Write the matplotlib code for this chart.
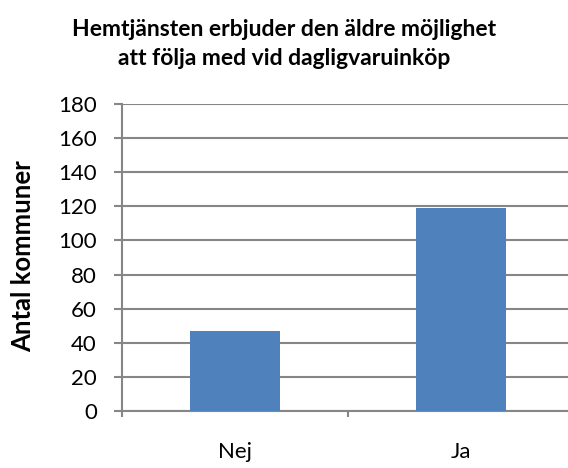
import matplotlib
matplotlib.use("Agg")
import matplotlib.pyplot as plt

categories = ["Nej", "Ja"]
values = [47, 119]
y_ticks = [0, 20, 40, 60, 80, 100, 120, 140, 160, 180]

TITLE = "Hemtjänsten erbjuder den äldre möjlighet\natt följa med vid dagligvaruinköp"
Y_LABEL = "Antal kommuner"

BAR_COLOR = "#4F81BD"
GRID_COLOR = "#868686"

plt.rcParams["font.family"] = ["Lato", "DejaVu Sans"]

fig = plt.figure(figsize=(5.68, 4.68), dpi=100)
# axes runs a little past the right edge, as in the original
ax = fig.add_axes([122 / 568, 1 - 411 / 468, 452 / 568, 307 / 468])

x = range(len(categories))
ax.bar(x, values, width=90 / 226, color=BAR_COLOR, zorder=3)

ax.set_xlim(-0.5, 1.5)
ax.set_ylim(0, 180)
ax.set_yticks(y_ticks)
ax.set_yticklabels([str(v) for v in y_ticks], fontsize=16)
ax.set_xticks([0, 1])
ax.set_xticklabels(categories, fontsize=16)
ax.set_xticks([-0.5, 0.5, 1.5], minor=True)

ax.grid(axis="y", color=GRID_COLOR, linewidth=1.5, zorder=0)
for side in ["top", "right"]:
    ax.spines[side].set_visible(False)
for side in ["left", "bottom"]:
    ax.spines[side].set_color(GRID_COLOR)
    ax.spines[side].set_linewidth(1.5)

ax.tick_params(axis="y", length=6, width=1.5, color=GRID_COLOR, pad=12)
ax.tick_params(axis="x", which="major", length=0, pad=22)
ax.tick_params(axis="x", which="minor", length=4, width=1.5, color=GRID_COLOR)

fig.text(23 / 568, 1 - 256 / 468, Y_LABEL, rotation=90, ha="center", va="center",
         fontsize=18.5, fontweight="bold")

fig.text(0.5, 1 - 44 / 468, TITLE, ha="center", va="center",
         fontsize=16.5, fontweight="bold", linespacing=1.45)

fig.savefig("out.png", dpi=100)
